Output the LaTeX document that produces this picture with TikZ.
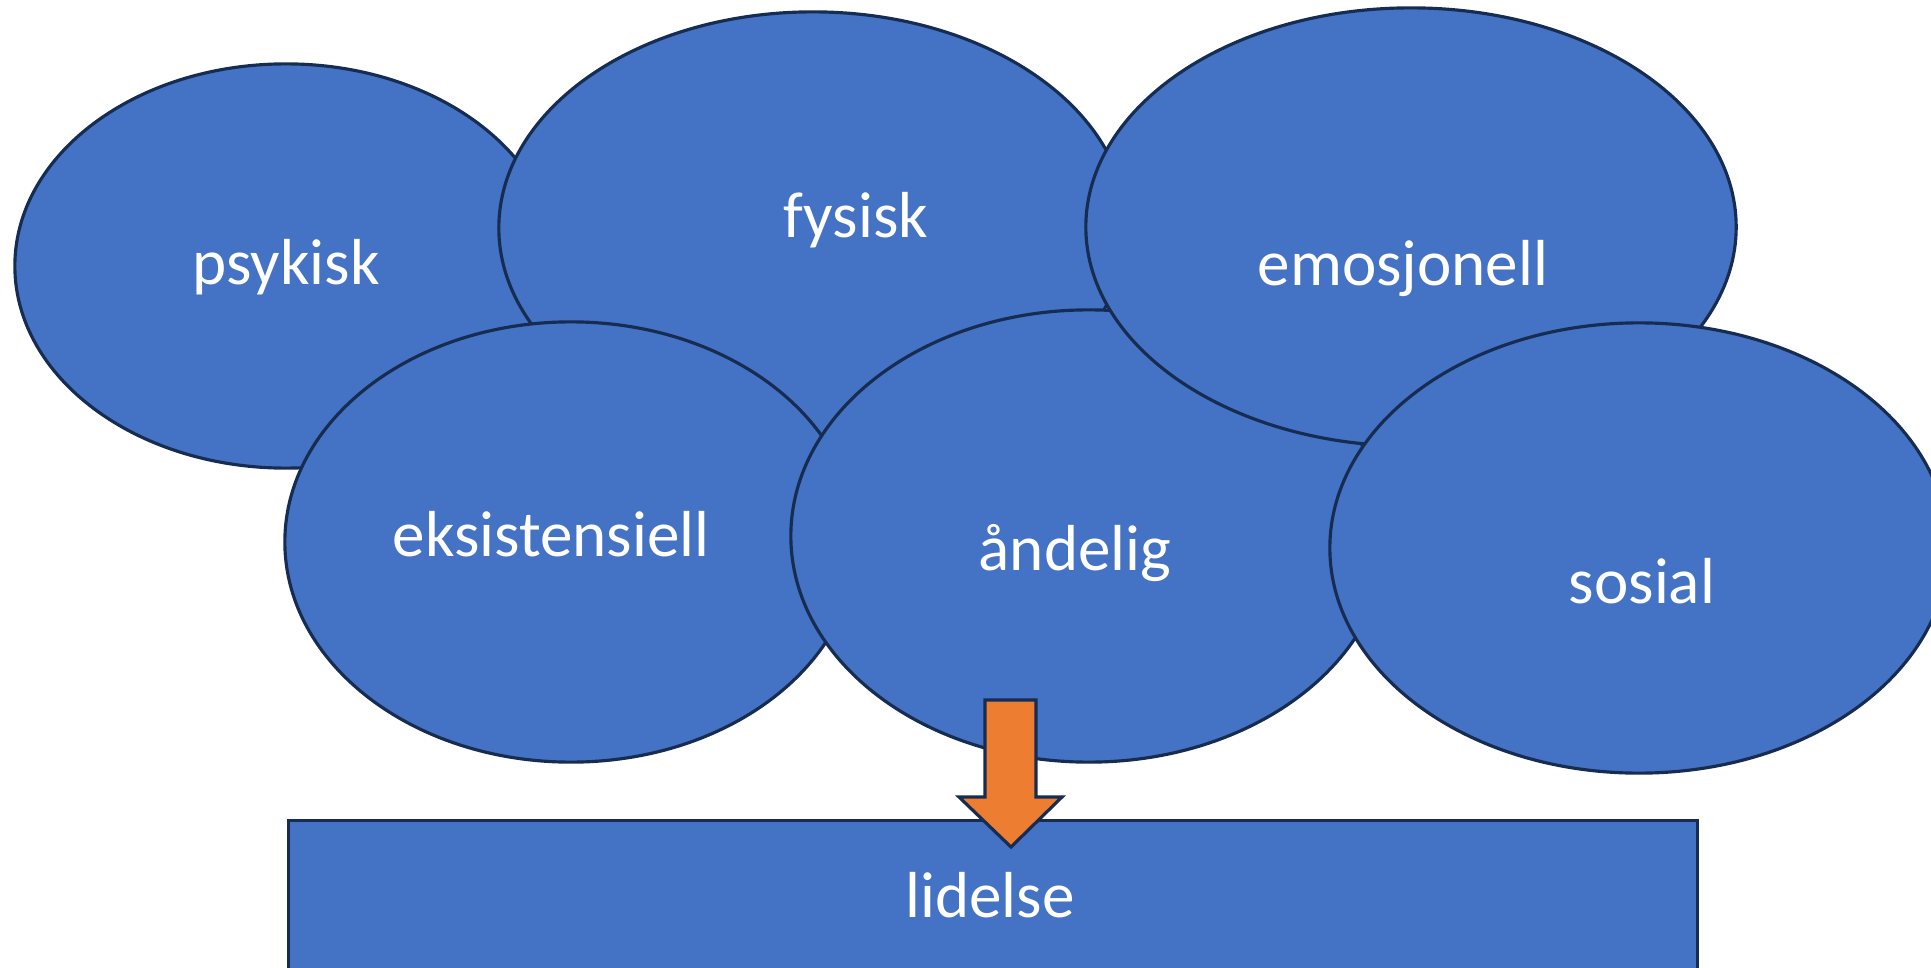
\documentclass[tikz,border=0pt]{standalone}
\usepackage{fontspec}
\setmainfont{Carlito}
\usepackage{xcolor}
\definecolor{ovalfill}{HTML}{4472C4}
\definecolor{ovaldraw}{HTML}{172C51}
\definecolor{arrowfill}{HTML}{ED7D31}
\usepackage{tikz}
\usetikzlibrary{shapes.geometric}

\begin{document}
\begin{tikzpicture}[
  x=0.01cm, y=-0.01cm,
  every node/.style={inner sep=0pt, font=\fontsize{18.5}{22}\selectfont},
  oval/.style   ={ellipse, draw=ovaldraw, line width=0.9pt, fill=ovalfill},
  bar/.style    ={rectangle, draw=ovaldraw, line width=0.9pt, fill=ovalfill, anchor=north west},
  word/.style   ={anchor=mid, text=white},
  downarrow/.style={draw=ovaldraw, line width=0.9pt, fill=arrowfill, line join=miter}
]
\useasboundingbox (0,0) rectangle (1931,967);
\clip (0,0) rectangle (1931,967);

% back row first, front row drawn over it
\node[oval, minimum width=5.42cm, minimum height=4.04cm] (psykisk) at (286,266) {};
\node[oval, minimum width=6.28cm, minimum height=4.32cm] (fysisk)  at (813,228) {};
\node[oval, minimum width=5.72cm, minimum height=4.40cm] (eksist)  at (571,542) {};
\node[oval, minimum width=5.96cm, minimum height=4.52cm] (andelig) at (1089,536) {};
\node[oval, minimum width=6.50cm, minimum height=4.38cm] (emosjon) at (1411,227) {};
\node[oval, minimum width=6.18cm, minimum height=4.50cm] (sosial)  at (1639,548) {};

\node[word] (psykisk-t) at (286,276)  {psykisk};
\node[word] (fysisk-t)  at (856,229)  {fysisk};
\node[word] (emosjon-t) at (1403,277) {emosjonell};
\node[word] (eksist-t)  at (551,548)  {eksistensiell};
\node[word] (andelig-t) at (1075,562) {åndelig};
\node[word] (sosial-t)  at (1642,595) {sosial};

\node[bar, minimum width=14.08cm, minimum height=3cm] (lidelse) at (287,819) {};
\node[word] (lidelse-t) at (990,909) {lidelse};

% block arrow from the ovals down onto the bar
\draw[downarrow] (985,700) -- (1036,700) -- (1036,797) -- (1062,797)
   -- (1011,847) -- (959,797) -- (985,797) -- cycle;

\end{tikzpicture}
\end{document}
